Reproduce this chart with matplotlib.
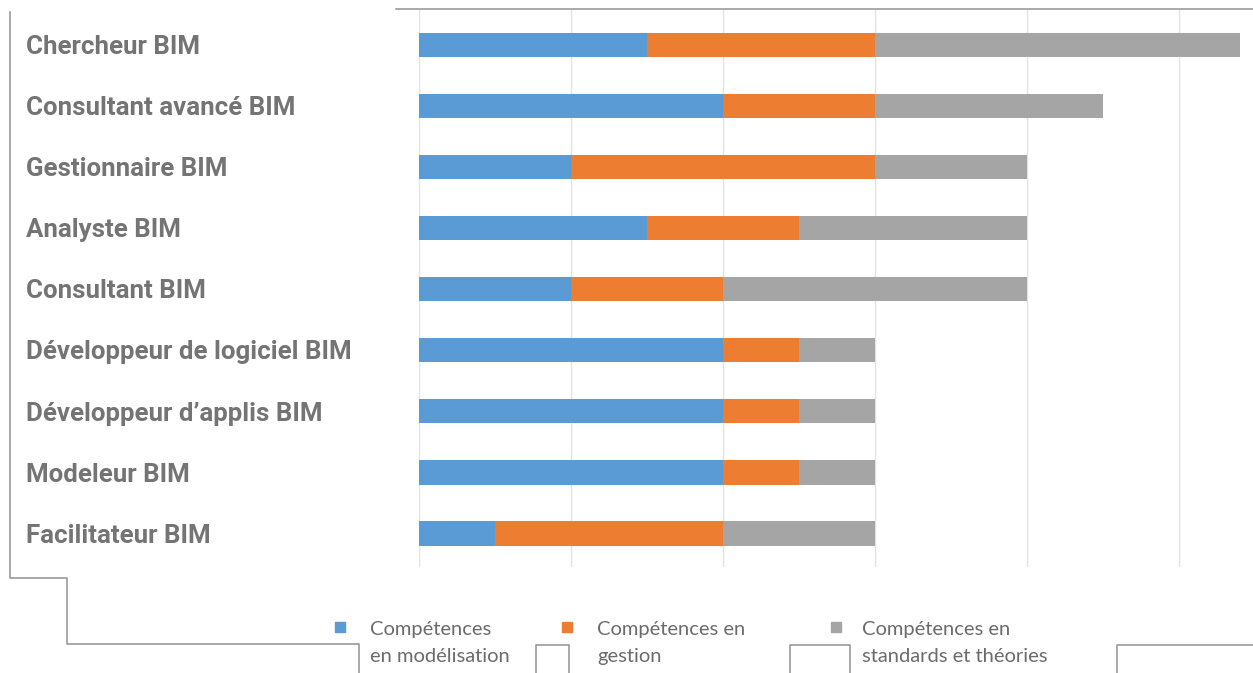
import numpy as np
import matplotlib.pyplot as plt
from matplotlib.lines import Line2D
from matplotlib.patches import Rectangle

roles = ["Chercheur BIM", "Consultant avancé BIM", "Gestionnaire BIM", "Analyste BIM",
         "Consultant BIM", "Développeur de logiciel BIM", "Développeur d’applis BIM",
         "Modeleur BIM", "Facilitateur BIM"]
modelisation = [1.5, 2.0, 1.0, 1.5, 1.0, 2.0, 2.0, 2.0, 0.5]
gestion = [1.5, 1.0, 2.0, 1.0, 1.0, 0.5, 0.5, 0.5, 1.5]
standards = [2.4, 1.5, 1.0, 1.5, 2.0, 0.5, 0.5, 0.5, 1.0]
series_names = ["Compétences\nen modélisation", "Compétences en\ngestion",
                "Compétences en\nstandards et théories"]
colors = ["#5b9bd5", "#ed7d31", "#a5a5a5"]

W, H = 1253, 673
fig = plt.figure(figsize=(W / 100, H / 100), dpi=100)

# axes placed in pixel terms
left, right, top, bottom = 419, 1253, 10, 567
ax = fig.add_axes([left / W, 1 - bottom / H, (right - left) / W, (bottom - top) / H])

y = np.arange(len(roles))
m = np.array(modelisation)
g = np.array(gestion)
s = np.array(standards)
ax.barh(y, m, height=0.4, color=colors[0], zorder=2)
ax.barh(y, g, left=m, height=0.4, color=colors[1], zorder=2)
ax.barh(y, s, left=m + g, height=0.4, color=colors[2], zorder=2)

ax.set_xlim(0, (right - left) / 152)
ax.set_ylim(8.55, -0.57)
ax.set_xticks(np.arange(0, 6))
ax.xaxis.grid(True, color="#e3e3e3", linewidth=1, zorder=0)
ax.set_xticklabels([])
ax.set_yticks([])
ax.tick_params(length=0)
for sp in ax.spines.values():
    sp.set_visible(False)

# category labels on the left
for i, r in enumerate(roles):
    yy = 47 + i * 61.1
    fig.text(26 / W, 1 - yy / H, r, ha="left", va="center", fontsize=18.6,
             fontweight="bold", color="#747474", family="Roboto")

# legend
lx = [340, 567, 836]
tx = [370, 597, 862]
for i in range(3):
    fig.patches.append(Rectangle(((lx[i] - 5) / W, 1 - 632 / H), 10 / W, 10 / H,
                                 transform=fig.transFigure, color=colors[i]))
    fig.text(tx[i] / W, 1 - 643 / H, series_names[i], ha="left", va="center",
             fontsize=14.5, color="#6b6b6b", family="Lato", linespacing=1.72)

# border lines of the original frame
def pline(xs, ys):
    fig.add_artist(Line2D([v / W for v in xs], [1 - v / H for v in ys],
                          color="#9a9a9a", linewidth=1.2))

pline([396, 1253], [9, 9])
pline([10, 10, 67, 67, 359, 359], [12, 578, 578, 644, 644, 673])
pline([536, 536, 569, 569], [673, 645, 645, 673])
pline([790, 790, 850, 850], [673, 645, 645, 673])
pline([1117, 1117, 1253], [673, 645, 645])

fig.savefig("out.png", dpi=100)
